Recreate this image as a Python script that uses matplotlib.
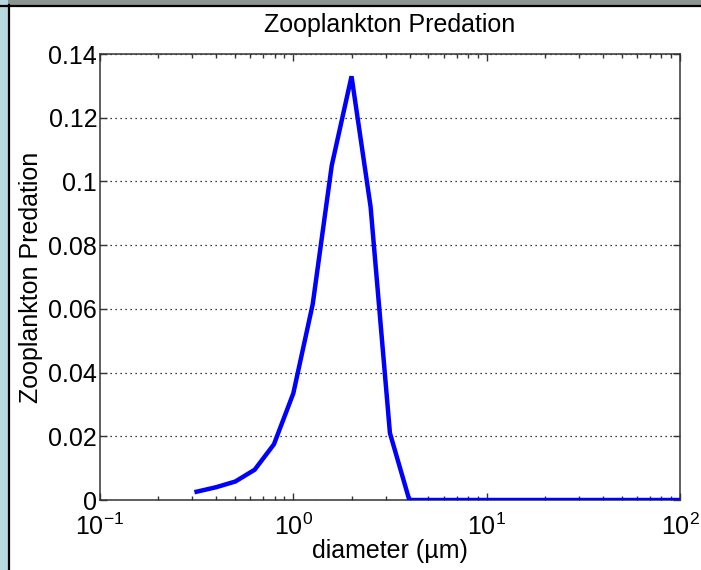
import numpy as np
import matplotlib; matplotlib.use("Agg")
import matplotlib.pyplot as plt
from matplotlib.patches import Rectangle
from matplotlib.lines import Line2D
from matplotlib.ticker import LogLocator, FixedLocator

# ── Data (log-spaced diameters, 0.1 decade apart)
diameter = [0.316, 0.398, 0.501, 0.631, 0.794, 1.0, 1.26, 1.58, 2.0, 2.51,
            3.16, 3.98, 5.01, 6.31, 7.94, 10.0, 12.6, 15.8, 20.0, 25.1,
            31.6, 39.8, 50.1, 63.1, 79.4, 100.0]
predation = [0.0026, 0.0040, 0.0058, 0.0095, 0.0175, 0.0335, 0.0615, 0.105,
             0.1330, 0.0920, 0.0210, 0.0, 0.0, 0.0, 0.0, 0.0, 0.0, 0.0, 0.0,
             0.0, 0.0, 0.0, 0.0, 0.0, 0.0, 0.0]
yticks = [0, 0.02, 0.04, 0.06, 0.08, 0.1, 0.12, 0.14]
ytick_labels = ["0", "0.02", "0.04", "0.06", "0.08", "0.1", "0.12", "0.14"]

# ── Style (MATLAB look)
plt.rcParams.update({
    "font.family":      "Liberation Sans",
    "font.size":        18,
    "mathtext.fontset": "custom",
    "mathtext.rm":      "Liberation Sans",
    "mathtext.it":      "Liberation Sans",
    "xtick.direction":  "in",
    "ytick.direction":  "in",
})

W, H = 701, 570
fig = plt.figure(figsize=(W/100, H/100), dpi=100)
fig.patch.set_facecolor("white")

# window frame bits from the screenshot
fig.patches.append(Rectangle((0, 1 - 5/H), 1, 5/H, transform=fig.transFigure,
                             facecolor="#8c9592", edgecolor="none", zorder=0))
fig.patches.append(Rectangle((0, 0), 8/W, 1, transform=fig.transFigure,
                             facecolor="#b6dadd", edgecolor="none", zorder=0))
fig.lines.append(Line2D([0, 1], [1 - 5.5/H, 1 - 5.5/H], transform=fig.transFigure,
                        color="black", lw=1.6))
fig.lines.append(Line2D([8.5/W, 8.5/W], [0, 1 - 5/H], transform=fig.transFigure,
                        color="black", lw=1.6))

ax = fig.add_axes([100/W, 70/H, 580/W, 446/H])
ax.plot(diameter, predation, color="#0000ff", lw=3.2, solid_joinstyle="miter",
        zorder=3)

ax.set_xscale("log")
ax.set_xlim(0.1, 100)
ax.set_ylim(0, 0.14)
ax.xaxis.set_major_locator(FixedLocator([0.1, 1, 10, 100]))
ax.xaxis.set_minor_locator(LogLocator(base=10, subs=np.arange(2, 10)))
ax.set_xticklabels([r"$10^{-1}$", r"$10^{0}$", r"$10^{1}$", r"$10^{2}$"])
ax.set_yticks(yticks)
ax.set_yticklabels(ytick_labels)

ax.tick_params(which="both", top=True, right=True, color="#333333")
ax.tick_params(which="major", length=5, width=1.0, pad=2)
ax.tick_params(which="minor", length=3, width=1.0)
ax.tick_params(axis="x", which="major", pad=10)
for s in ax.spines.values():
    s.set_color("#333333")
    s.set_linewidth(1.1)

ax.yaxis.grid(True, ls=(0, (1, 3)), color="black", lw=0.9)
ax.xaxis.grid(False)

ax.set_title("Zooplankton Predation", fontsize=18, pad=16)
ax.set_xlabel("diameter (µm)", fontsize=18, labelpad=-1)
ax.set_ylabel("Zooplankton Predation", fontsize=18, labelpad=4)

fig.savefig("out.png", dpi=100)
